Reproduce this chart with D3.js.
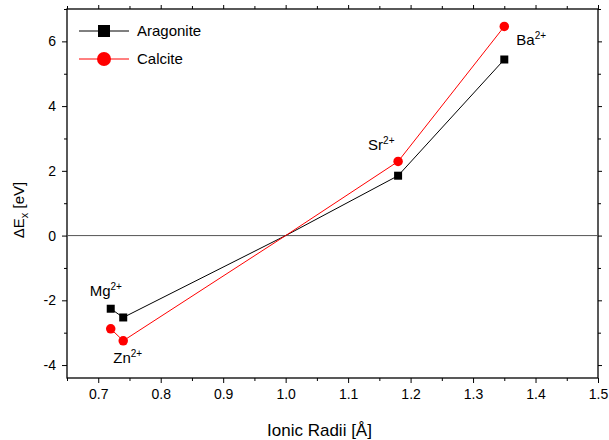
<!DOCTYPE html>
<html>
<head>
<meta charset="utf-8">
<script src="https://cdn.jsdelivr.net/npm/d3@7"></script>
<style>
  html, body { margin: 0; padding: 0; background: #fff; }
  svg { display: block; font-family: "Liberation Sans", Arial, Helvetica, sans-serif; }
</style>
</head>
<body>
<svg id="chart" width="609" height="440"></svg>
<script>
// values
const ions = ["Mg", "Zn", "Ca", "Sr", "Ba"];
const radii = [0.72, 0.74, 1.00, 1.18, 1.35];
const aragonite = [-2.26, -2.53, 0, 1.85, 5.44];
const calcite = [-2.88, -3.25, 0, 2.29, 6.46];
const xMajor = [0.7, 0.8, 0.9, 1.0, 1.1, 1.2, 1.3, 1.4, 1.5];
const yMajor = [-4, -2, 0, 2, 4, 6];

const W = 609, H = 440;
const m = { top: 9, right: 11, bottom: 62, left: 67 };
const svg = d3.select("#chart");

const x = d3.scaleLinear().domain([0.65, 1.5]).range([m.left, W - m.right]);
const y = d3.scaleLinear().domain([-4.4, 7]).range([H - m.bottom, m.top]);

const xMinor = d3.range(0.65, 1.5, 0.1).map((v) => +v.toFixed(2));
const yMinor = d3.range(-3, 8, 2);

// ticks on all four sides, outward
function ticks(axisFn, scale, vals, len, labels) {
  return axisFn(scale).tickValues(vals).tickSize(len).tickSizeOuter(0)
    .tickPadding(6)
    .tickFormat(labels ? d3.format(labels) : "");
}

function drawAxis(gen, transform) {
  const g = svg.append("g").attr("transform", transform).call(gen);
  g.select(".domain").remove();
  g.selectAll("line").attr("stroke", "#000");
  g.selectAll("text").attr("font-size", 14).attr("fill", "#000");
  return g;
}

const bottomY = H - m.bottom, rightX = W - m.right;
drawAxis(ticks(d3.axisBottom, x, xMajor, 5, ".1f"), `translate(0,${bottomY})`);
drawAxis(ticks(d3.axisBottom, x, xMinor, 3), `translate(0,${bottomY})`);
drawAxis(ticks(d3.axisTop, x, xMajor, 4), `translate(0,${m.top})`);
drawAxis(ticks(d3.axisTop, x, xMinor, 3), `translate(0,${m.top})`);
drawAxis(ticks(d3.axisLeft, y, yMajor, 5, "d"), `translate(${m.left},0)`)
  .selectAll("text").text((d) => (d < 0 ? "-" + Math.abs(d) : d));
drawAxis(ticks(d3.axisLeft, y, yMinor, 3), `translate(${m.left},0)`);
drawAxis(ticks(d3.axisRight, y, yMajor, 4), `translate(${rightX},0)`);
drawAxis(ticks(d3.axisRight, y, yMinor, 3), `translate(${rightX},0)`);

// frame
svg.append("rect")
  .attr("x", m.left).attr("y", m.top)
  .attr("width", rightX - m.left).attr("height", bottomY - m.top)
  .attr("fill", "none").attr("stroke", "#000").attr("stroke-width", 1.3);

// zero line
svg.append("line")
  .attr("x1", m.left).attr("x2", rightX)
  .attr("y1", y(0)).attr("y2", y(0))
  .attr("stroke", "#555").attr("stroke-width", 1);

const series = [
  { name: "Aragonite", vals: aragonite, color: "#000", shape: "square" },
  { name: "Calcite", vals: calcite, color: "#ff0000", shape: "circle" },
];

const line = d3.line().x((d) => x(d[0])).y((d) => y(d[1]));

function marker(g, shape, color, size) {
  if (shape === "square") {
    g.append("rect").attr("x", -size / 2).attr("y", -size / 2)
      .attr("width", size).attr("height", size).attr("fill", color);
  } else {
    g.append("circle").attr("r", size / 2).attr("fill", color);
  }
}

series.forEach((s) => {
  const pts = radii.map((r, i) => [r, s.vals[i]]);
  svg.append("path").datum(pts)
    .attr("d", line).attr("fill", "none")
    .attr("stroke", s.color).attr("stroke-width", 1);
  // Ca is the reference point: no marker
  pts.forEach((p, i) => {
    if (ions[i] === "Ca") return;
    const g = svg.append("g").attr("transform", `translate(${x(p[0])},${y(p[1])})`);
    marker(g, s.shape, s.color, s.shape === "square" ? 8 : 9.5);
  });
});

// ion labels, placed relative to a data point
const labels = [
  { ion: "Mg", s: aragonite, dx: -21, dy: -13 },
  { ion: "Zn", s: calcite, dx: -10, dy: 22 },
  { ion: "Sr", s: calcite, dx: -30, dy: -11 },
  { ion: "Ba", s: calcite, dx: 12, dy: 19 },
];
labels.forEach((l) => {
  const i = ions.indexOf(l.ion);
  const t = svg.append("text")
    .attr("x", x(radii[i]) + l.dx).attr("y", y(l.s[i]) + l.dy)
    .attr("font-size", 15).attr("fill", "#000");
  t.append("tspan").text(l.ion);
  t.append("tspan").attr("font-size", 10).attr("dy", -6).text("2+");
});

// legend
series.forEach((s, i) => {
  const ly = 31 + i * 28;
  svg.append("line").attr("x1", 79).attr("x2", 129).attr("y1", ly).attr("y2", ly)
    .attr("stroke", s.color).attr("stroke-width", 1);
  const g = svg.append("g").attr("transform", `translate(104,${ly})`);
  marker(g, s.shape, s.color, s.shape === "square" ? 12 : 14);
  svg.append("text").attr("x", 137).attr("y", ly + 5)
    .attr("font-size", 15).attr("fill", "#000").text(s.name);
});

// axis titles
svg.append("text")
  .attr("x", (m.left + rightX) / 2 - 13).attr("y", 436)
  .attr("text-anchor", "middle").attr("font-size", 17)
  .text("Ionic Radii [Å]");

const yt = svg.append("text")
  .attr("transform", "translate(24,210) rotate(-90)")
  .attr("text-anchor", "middle").attr("font-size", 15);
yt.append("tspan").text("ΔE");
yt.append("tspan").attr("font-size", 11).attr("dy", 4).text("x");
yt.append("tspan").attr("dy", -4).text(" [eV]");
</script>
</body>
</html>
